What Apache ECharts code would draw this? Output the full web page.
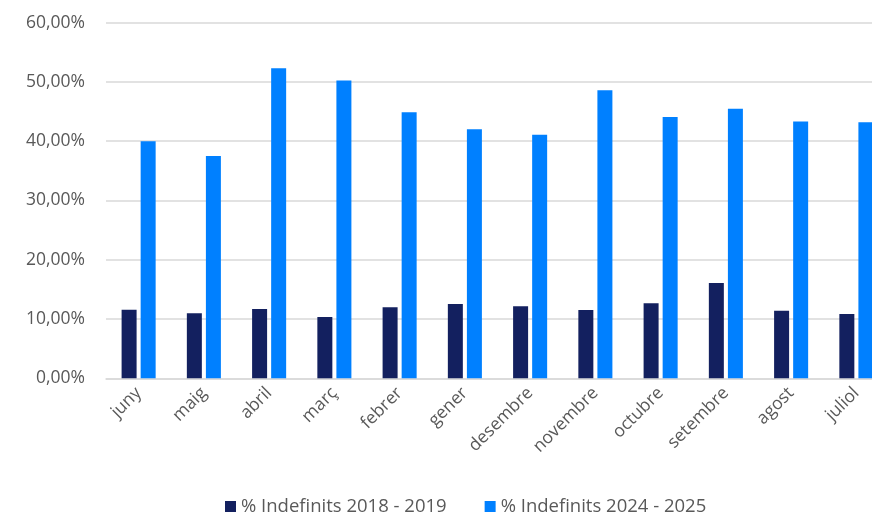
<!DOCTYPE html>
<html><head><meta charset="utf-8">
<script src="https://cdn.jsdelivr.net/npm/echarts@6/dist/echarts.min.js"></script>
<style>html,body{margin:0;padding:0;background:#fff}#c{width:872px;height:514px}</style>
</head><body><div id="c"></div>
<script>
const categories = ['juny','maig','abril','març','febrer','gener','desembre','novembre','octubre','setembre','agost','juliol'];
const values2018 = [11.57, 10.96, 11.69, 10.34, 11.97, 12.53, 12.14, 11.52, 12.65, 16.07, 11.40, 10.84];
const values2024 = [40.00, 37.50, 52.30, 50.25, 44.90, 42.04, 41.08, 48.60, 44.10, 45.46, 43.34, 43.22];
const seriesNames = ['% Indefinits 2018 - 2019', '% Indefinits 2024 - 2025'];
const yTicks = {min: 0, max: 60, interval: 10};

const font = 'Open Sans';
const chart = echarts.init(document.getElementById('c'), null, {renderer: 'canvas'});
chart.setOption({
  animation: false,
  backgroundColor: '#fff',
  grid: {left: 106, right: -17, top: 22.7, bottom: 135.7, containLabel: false, outerBoundsMode: 'none'},
  legend: {
    left: 225, top: 497, padding: 0, itemWidth: 11, itemHeight: 11, itemGap: 38,
    icon: 'rect',
    textStyle: {fontFamily: font, fontSize: 18.5, color: '#595959'},
    data: seriesNames
  },
  xAxis: {
    type: 'category', data: categories,
    axisLine: {show: true, lineStyle: {color: '#D9D9D9', width: 1.5}},
    axisTick: {show: false},
    axisLabel: {rotate: 45, fontFamily: font, fontSize: 17.5, color: '#595959', margin: 12, interval: 0}
  },
  yAxis: {
    type: 'value', min: yTicks.min, max: yTicks.max, interval: yTicks.interval,
    axisLine: {show: false}, axisTick: {show: false},
    splitLine: {lineStyle: {color: '#D9D9D9', width: 1.5}},
    axisLabel: {fontFamily: font, fontSize: 17.5, color: '#595959', margin: 21,
      formatter: v => v.toFixed(2).replace('.', ',') + '%'}
  },
  series: [
    {name: seriesNames[0], type: 'bar', data: values2018, barWidth: 15, barGap: '27%',
     itemStyle: {color: '#13205F'}},
    {name: seriesNames[1], type: 'bar', data: values2024, barWidth: 15,
     itemStyle: {color: '#0080FF'}}
  ]
});
</script></body></html>
